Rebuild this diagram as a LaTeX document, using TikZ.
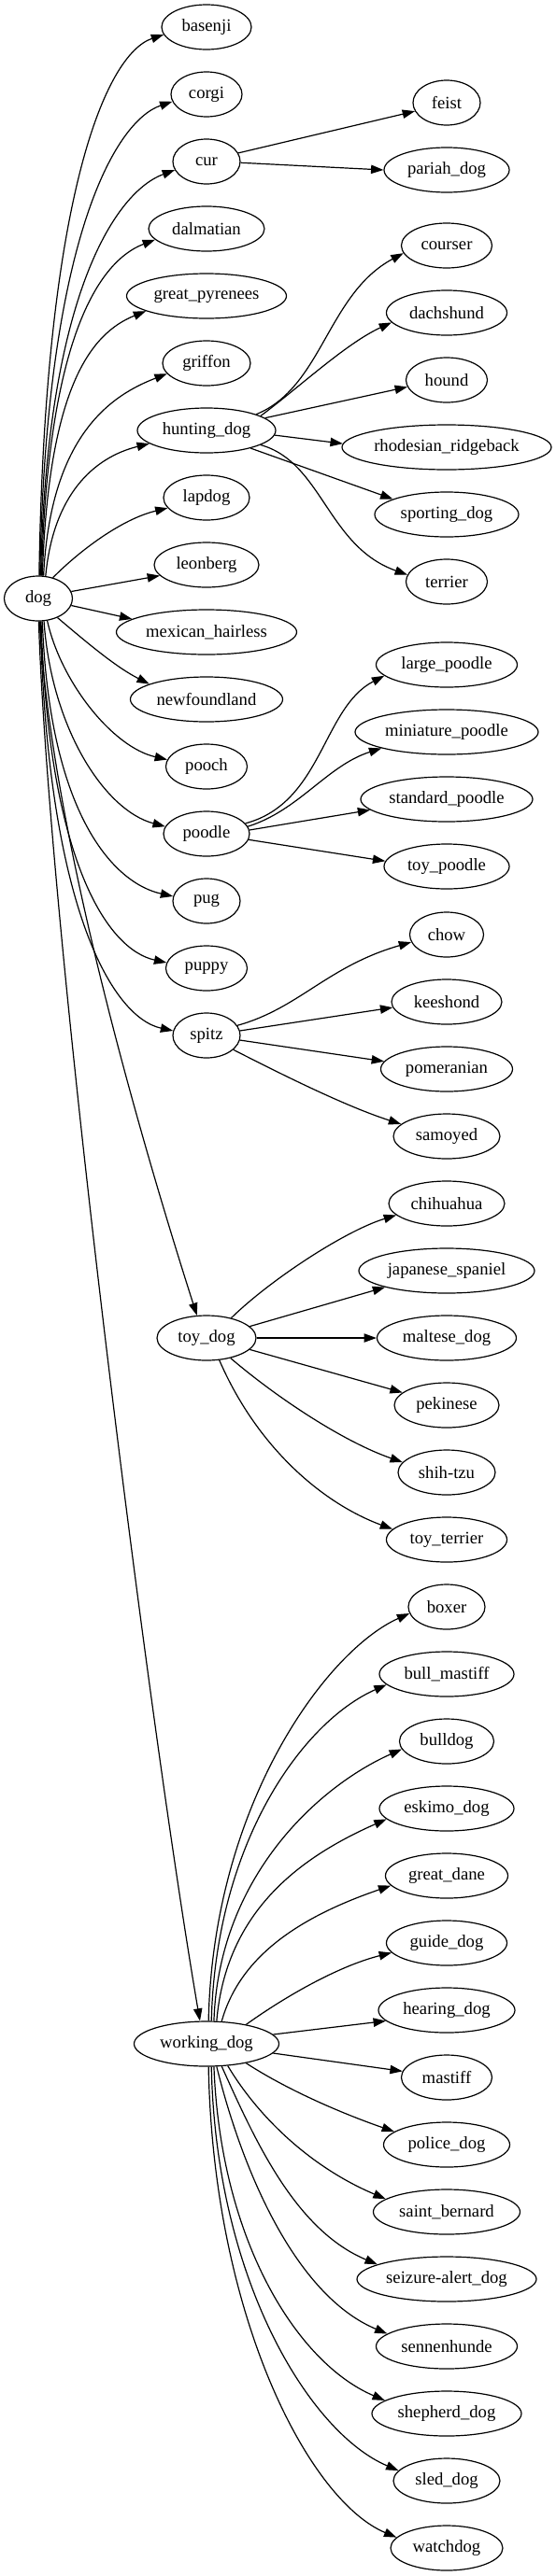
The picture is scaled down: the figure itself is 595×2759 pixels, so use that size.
\documentclass[tikz,border=0pt]{standalone}
\usepackage{fontspec}
\setmainfont{Liberation Serif}
\usetikzlibrary{shapes.geometric,arrows.meta}
\newcommand\lbl[1]{\makebox[0pt]{#1}}
\begin{document}
\begin{tikzpicture}[x=0.75pt,y=-0.75pt,
  nd/.style={draw, ellipse, line width=0.9pt, minimum height=36pt, minimum width=#1*0.75pt, inner sep=0pt, font=\fontsize{14pt}{16pt}\selectfont},
  e/.style={line width=0.9pt, -{Triangle[length=10pt,width=7pt]}}]
\useasboundingbox (0,0) rectangle (595,2759);
% column 1
\node[nd=73] (dog) at (41,641) {\lbl{dog}};
% column 2
\node[nd=96]  (basenji) at (221,29) {\lbl{basenji}};
\node[nd=76]  (corgi) at (221,101) {\lbl{corgi}};
\node[nd=72]  (cur) at (221,173) {\lbl{cur}};
\node[nd=124] (dalmatian) at (221,245) {\lbl{dalmatian}};
\node[nd=171] (greatpyr) at (221,317) {\lbl{great\_pyrenees}};
\node[nd=94]  (griffon) at (221,389) {\lbl{griffon}};
\node[nd=148] (hunting) at (221,461) {\lbl{hunting\_dog}};
\node[nd=92]  (lapdog) at (221,533) {\lbl{lapdog}};
\node[nd=112] (leonberg) at (221,605) {\lbl{leonberg}};
\node[nd=193] (mexican) at (221,677) {\lbl{mexican\_hairless}};
\node[nd=163] (newfoundland) at (221,749) {\lbl{newfoundland}};
\node[nd=87]  (pooch) at (221,821) {\lbl{pooch}};
\node[nd=92]  (poodle) at (221,893) {\lbl{poodle}};
\node[nd=72]  (pug) at (221,965) {\lbl{pug}};
\node[nd=87]  (puppy) at (221,1037) {\lbl{puppy}};
\node[nd=72]  (spitz) at (221,1109) {\lbl{spitz}};
\node[nd=106] (toydog) at (221,1433) {\lbl{toy\_dog}};
\node[nd=155] (workingdog) at (221,2189) {\lbl{working\_dog}};
% column 3
\node[nd=72]  (feist) at (478,110) {\lbl{feist}};
\node[nd=134] (pariah) at (478,182) {\lbl{pariah\_dog}};
\node[nd=97]  (courser) at (478,263) {\lbl{courser}};
\node[nd=129] (dachshund) at (478,335) {\lbl{dachshund}};
\node[nd=87]  (hound) at (478,407) {\lbl{hound}};
\node[nd=224] (rhodesian) at (478,479) {\lbl{rhodesian\_ridgeback}};
\node[nd=154] (sporting) at (478,551) {\lbl{sporting\_dog}};
\node[nd=87]  (terrier) at (478,623) {\lbl{terrier}};
\node[nd=151] (large) at (478,712) {\lbl{large\_poodle}};
\node[nd=196] (mini) at (478,784) {\lbl{miniature\_poodle}};
\node[nd=184] (standard) at (478,856) {\lbl{standard\_poodle}};
\node[nd=134] (toypoodle) at (478,928) {\lbl{toy\_poodle}};
\node[nd=79]  (chow) at (478,1001) {\lbl{chow}};
\node[nd=118] (keeshond) at (478,1073) {\lbl{keeshond}};
\node[nd=141] (pomeranian) at (478,1145) {\lbl{pomeranian}};
\node[nd=114] (samoyed) at (478,1217) {\lbl{samoyed}};
\node[nd=124] (chihuahua) at (478,1289) {\lbl{chihuahua}};
\node[nd=188] (japanese) at (478,1361) {\lbl{japanese\_spaniel}};
\node[nd=149] (maltese) at (478,1433) {\lbl{maltese\_dog}};
\node[nd=112] (pekinese) at (478,1505) {\lbl{pekinese}};
\node[nd=104] (shihtzu) at (478,1577) {\lbl{shih-tzu}};
\node[nd=129] (toyterrier) at (478,1649) {\lbl{toy\_terrier}};
\node[nd=82]  (boxer) at (478,1721) {\lbl{boxer}};
\node[nd=144] (bullmastiff) at (478,1793) {\lbl{bull\_mastiff}};
\node[nd=101] (bulldog) at (478,1865) {\lbl{bulldog}};
\node[nd=144] (eskimo) at (478,1937) {\lbl{eskimo\_dog}};
\node[nd=131] (greatdane) at (478,2009) {\lbl{great\_dane}};
\node[nd=129] (guide) at (478,2081) {\lbl{guide\_dog}};
\node[nd=146] (hearing) at (478,2153) {\lbl{hearing\_dog}};
\node[nd=97]  (mastiff) at (478,2225) {\lbl{mastiff}};
\node[nd=135] (police) at (478,2297) {\lbl{police\_dog}};
\node[nd=157] (saint) at (478,2369) {\lbl{saint\_bernard}};
\node[nd=192] (seizure) at (478,2441) {\lbl{seizure-alert\_dog}};
\node[nd=151] (sennenhunde) at (478,2513) {\lbl{sennenhunde}};
\node[nd=160] (shepherd) at (478,2585) {\lbl{shepherd\_dog}};
\node[nd=114] (sled) at (478,2657) {\lbl{sled\_dog}};
\node[nd=120] (watchdog) at (478,2729) {\lbl{watchdog}};
% dog edges
\draw[e] (dog.88) .. controls (48,210) and (113,58) .. (basenji.190);
\draw[e] (dog.86) .. controls (49,260) and (122,130) .. (corgi.192);
\draw[e] (dog.84) .. controls (50,312) and (125,205) .. (cur.195);
\draw[e] (dog.82) .. controls (51,364) and (105,280) .. (dalmatian.192);
\draw[e] (dog.80) .. controls (52,415) and (97,357) .. (greatpyr.194);
\draw[e] (dog.77) .. controls (54,465) and (120,423) .. (griffon.195);
\draw[e] (dog.72) .. controls (57,530) and (100,490) .. (hunting.193);
\draw[e] (dog.55) .. controls (85,590) and (130,556) .. (lapdog.195);
\draw[e] (dog.12) -- (leonberg.193);
\draw[e] (dog.-12) -- (mexican.170);
\draw[e] (dog.-45) .. controls (95,690) and (125,715) .. (newfoundland.165);
\draw[e] (dog.-68) .. controls (65,730) and (120,800) .. (pooch.170);
\draw[e] (dog.-76) .. controls (55,780) and (112,868) .. (poodle.170);
\draw[e] (dog.-80) .. controls (53,873) and (122,946) .. (pug.172);
\draw[e] (dog.-83) .. controls (52,923) and (115,1017) .. (puppy.172);
\draw[e] (dog.-85) .. controls (51,975) and (121,1090) .. (spitz.172);
\draw[e] (dog.-87) .. controls (55,900) and (160,1250) .. (toydog.113);
\draw[e] (dog.-89) .. controls (52,1000) and (160,1850) .. (workingdog.106);
% cur
\draw[e] (cur.15) -- (feist.195);
\draw[e] (cur.-2) -- (pariah.180);
% hunting dog
\draw[e] (hunting.18) .. controls (345,415) and (350,315) .. (courser.190);
\draw[e] (hunting.15) .. controls (320,415) and (370,368) .. (dachshund.190);
\draw[e] (hunting.12) -- (hound.190);
\draw[e] (hunting.-4) -- (rhodesian.178);
\draw[e] (hunting.-22) -- (sporting.164);
\draw[e] (hunting.-15) .. controls (345,495) and (350,585) .. (terrier.170);
% poodle
\draw[e] (poodle.15) .. controls (345,860) and (345,758) .. (large.190);
\draw[e] (poodle.10) .. controls (320,868) and (350,820) .. (mini.194);
\draw[e] (poodle.5) -- (standard.188);
\draw[e] (poodle.-8) -- (toypoodle.175);
% spitz
\draw[e] (spitz.18) .. controls (320,1080) and (350,1035) .. (chow.192);
\draw[e] (spitz.8) -- (keeshond.186);
\draw[e] (spitz.-8) -- (pomeranian.173);
\draw[e] (spitz.-28) .. controls (300,1150) and (370,1185) .. (samoyed.165);
% toy dog
\draw[e] (toydog.39) .. controls (290,1370) and (370,1318) .. (chihuahua.193);
\draw[e] (toydog.15) -- (japanese.195);
\draw[e] (toydog.0) -- (maltese.180);
\draw[e] (toydog.-15) -- (pekinese.164);
\draw[e] (toydog.-40) .. controls (300,1500) and (370,1545) .. (shihtzu.167);
\draw[e] (toydog.-60) .. controls (275,1550) and (345,1610) .. (toyterrier.169);
% working dog
\draw[e] (workingdog.85) .. controls (228,1933) and (349,1768) .. (boxer.190);
\draw[e] (workingdog.78) .. controls (231,1973) and (324,1844) .. (bullmastiff.190);
\draw[e] (workingdog.72) .. controls (234,2010) and (341,1913) .. (bulldog.190);
\draw[e] (workingdog.66) .. controls (242,2045) and (324,1988) .. (eskimo.190);
\draw[e] (workingdog.56) .. controls (258,2090) and (330,2050) .. (greatdane.190);
\draw[e] (workingdog.26) .. controls (310,2135) and (365,2105) .. (guide.190);
\draw[e] (workingdog.8) -- (hearing.190);
\draw[e] (workingdog.-8) -- (mastiff.172);
\draw[e] (workingdog.-26) .. controls (310,2240) and (370,2265) .. (police.166);
\draw[e] (workingdog.-46) .. controls (275,2265) and (330,2320) .. (saint.168);
\draw[e] (workingdog.-56) .. controls (272,2290) and (315,2388) .. (seizure.168);
\draw[e] (workingdog.-66) .. controls (262,2335) and (320,2460) .. (sennenhunde.168);
\draw[e] (workingdog.-72) .. controls (236,2400) and (318,2531) .. (shepherd.168);
\draw[e] (workingdog.-78) .. controls (231,2443) and (332,2606) .. (sled.168);
\draw[e] (workingdog.-85) .. controls (228,2480) and (330,2678) .. (watchdog.168);
\end{tikzpicture}
\end{document}
